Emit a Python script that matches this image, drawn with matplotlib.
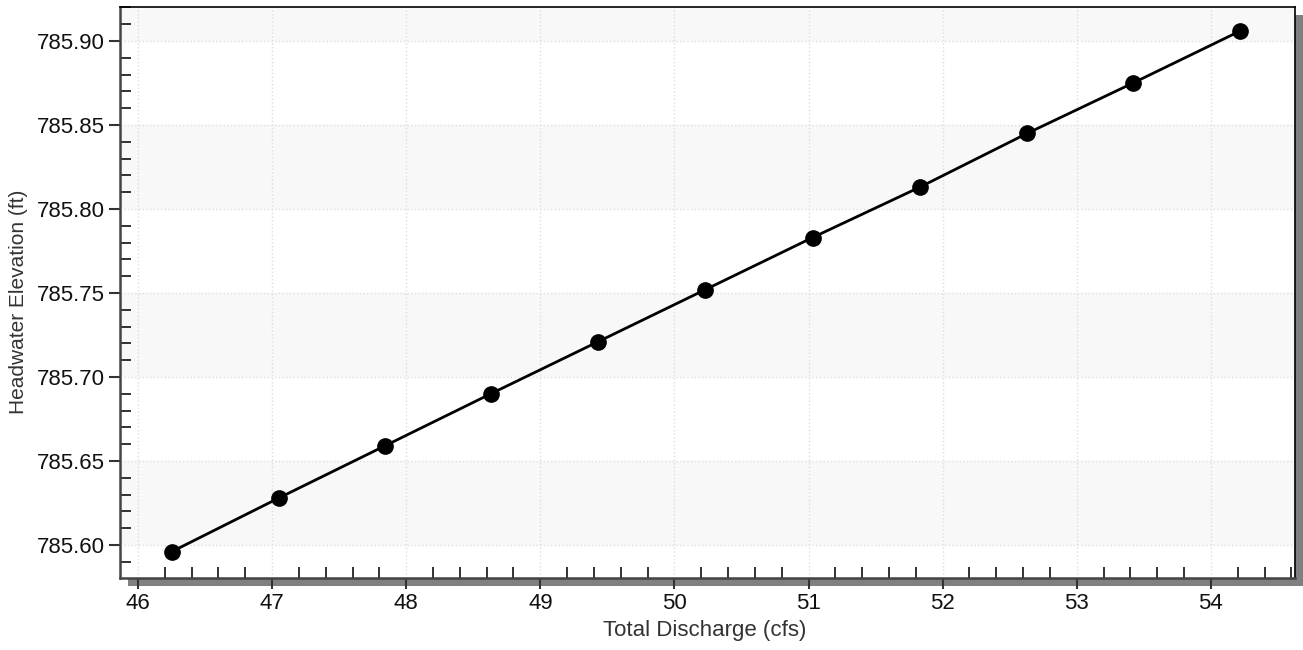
import numpy as np
import matplotlib.pyplot as plt
from matplotlib.patches import Rectangle
from matplotlib.ticker import MultipleLocator, FormatStrFormatter

plt.rcParams['font.family'] = ['Liberation Sans', 'DejaVu Sans']

discharge = [46.25, 47.05, 47.84, 48.63, 49.43, 50.23, 51.03, 51.83, 52.63, 53.42, 54.22]
headwater = [785.596, 785.628, 785.659, 785.690, 785.721, 785.752, 785.783, 785.813, 785.845, 785.875, 785.906]

fig = plt.figure(figsize=(13.03, 6.5), dpi=100)
l, b, w, h = 120 / 1303, 72 / 650, 1175 / 1303, 571 / 650
sx, sy = 8 / 1303, 8 / 650
fig.patches.append(Rectangle((l + sx, b - sy), w, h, transform=fig.transFigure,
                             facecolor='#808080', edgecolor='none', zorder=0))
ax = fig.add_axes([l, b, w, h])
ax.set_zorder(1)

ax.set_xlim(45.866, 54.627)
ax.set_ylim(785.5804, 785.9202)

# alternating bands
edges = [785.5804, 785.60, 785.65, 785.70, 785.75, 785.80, 785.85, 785.90, 785.9202]
for i in range(len(edges) - 1):
    if i % 2 == 1:
        ax.axhspan(edges[i], edges[i + 1], color='#f8f8f8', zorder=0, lw=0)

ax.plot(discharge, headwater, color='black', lw=2, marker='o', ms=11, zorder=3)

ax.xaxis.set_major_locator(MultipleLocator(1))
ax.xaxis.set_minor_locator(MultipleLocator(0.2))
ax.yaxis.set_major_locator(MultipleLocator(0.05))
ax.yaxis.set_minor_locator(MultipleLocator(0.01))
ax.yaxis.set_major_formatter(FormatStrFormatter('%.2f'))

ax.grid(True, which='major', color='#dedede', ls=':', lw=1, zorder=1)
ax.tick_params(which='major', direction='out', length=8, width=1.5, color='#333333',
               labelsize=16, labelcolor='#111111', pad=3)
ax.tick_params(which='minor', direction='in', length=8, width=1.3, color='#222222')

for s in ['left', 'bottom']:
    ax.spines[s].set_color('#444444')
    ax.spines[s].set_linewidth(1.8)
for s in ['top', 'right']:
    ax.spines[s].set_color('black')
    ax.spines[s].set_linewidth(1.2)

ax.set_xlabel('Total Discharge (cfs)', fontsize=16, color='#333333')
ax.set_ylabel('Headwater Elevation (ft)', fontsize=15, color='#333333')
ax.xaxis.set_label_coords(0.498, -0.074)
ax.yaxis.set_label_coords(-0.078, 0.483)

fig.savefig('out.png', dpi=100)
